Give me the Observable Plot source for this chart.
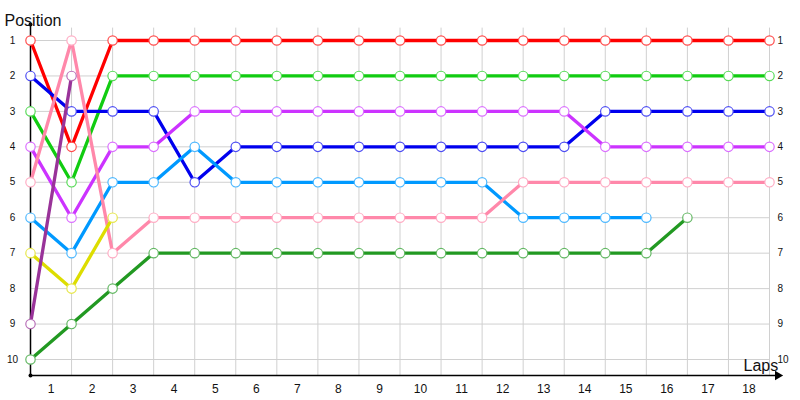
<!DOCTYPE html>
<html>
<head>
<meta charset="utf-8">
<script src="https://cdn.jsdelivr.net/npm/d3@7"></script>
<script src="https://cdn.jsdelivr.net/npm/@observablehq/plot@0.6"></script>
<style>
  html, body { margin: 0; padding: 0; background: #fff; }
  #chart svg { display: block; }
</style>
</head>
<body>
<div id="chart"></div>
<script>
// ---- data ----
const laps = [0,1,2,3,4,5,6,7,8,9,10,11,12,13,14,15,16,17,18];
const positions = [1,2,3,4,5,6,7,8,9,10];
const lapLabels = ["1","2","3","4","5","6","7","8","9","10","11","12","13","14","15","16","17","18"];

const red       = [1,4,1,1,1,1,1,1,1,1,1,1,1,1,1,1,1,1,1];
const green     = [3,5,2,2,2,2,2,2,2,2,2,2,2,2,2,2,2,2,2];
const blue      = [2,3,3,3,5,4,4,4,4,4,4,4,4,4,3,3,3,3,3];
const magenta   = [4,6,4,4,3,3,3,3,3,3,3,3,3,3,4,4,4,4,4];
const lightblue = [6,7,5,5,4,5,5,5,5,5,5,5,6,6,6,6];
const pink      = [5,1,7,6,6,6,6,6,6,6,6,6,5,5,5,5,5,5,5];
const darkgreen = [10,9,8,7,7,7,7,7,7,7,7,7,7,7,7,7,6];
const yellow    = [7,8,6];
const purple    = [9,2];

const seriesNames = ["red","green","blue","magenta","lightblue","pink","darkgreen","yellow","purple"];
const seriesData  = [red, green, blue, magenta, lightblue, pink, darkgreen, yellow, purple];

// ---- styles ----
const colors = {
  red: "#ff0000", green: "#11cc11", blue: "#0000ee", magenta: "#cc33ff",
  lightblue: "#0099ff", pink: "#ff88aa", darkgreen: "#229922", yellow: "#dddd00", purple: "#993399"
};
const dotColor = c => d3.interpolateRgb(c, "#ffffff")(0.3);

const rows = seriesNames.flatMap((name, k) =>
  seriesData[k].map((p, i) => ({driver: name, lap: laps[i], pos: p})));

const font = "'Liberation Sans', Arial, sans-serif";
const yBottom = 10.45, yTop = 0.55, xEnd = 18.2;

const seriesMarks = seriesNames.flatMap(name => {
  const d = rows.filter(r => r.driver === name);
  return [
    Plot.line(d, {x: "lap", y: "pos", stroke: colors[name], strokeWidth: 3.3, strokeLinejoin: "round"}),
    Plot.dot(d, {x: "lap", y: "pos", r: 4.7, fill: "white", stroke: dotColor(colors[name]), strokeWidth: 1.2})
  ];
});

const chart = Plot.plot({
  width: 800,
  height: 400,
  marginLeft: 30,
  marginRight: 31,
  marginTop: 40,
  marginBottom: 41,
  style: {fontFamily: font, background: "white"},
  x: {domain: [0, 18], axis: null},
  y: {domain: [1, 10], reverse: true, axis: null},
  marks: [
    // grid
    Plot.ruleX(laps.slice(1), {x: d => d, y1: 0.65, y2: yBottom, stroke: "#d0d0d0", strokeWidth: 1, strokeOpacity: 1}),
    Plot.ruleY(positions, {y: d => d, x1: 0, x2: 18, stroke: "#d0d0d0", strokeWidth: 1, strokeOpacity: 1}),
    // axes
    Plot.ruleX([0], {y1: yTop, y2: yBottom, stroke: "black", strokeWidth: 1.5}),
    Plot.ruleY([yBottom], {x1: 0, x2: xEnd, stroke: "black", strokeWidth: 1.5}),
    Plot.dot([[0, yTop], [0, yBottom]], {x: d => d[0], y: d => d[1], r: 2, fill: "black"}),
    Plot.dot([[xEnd, yBottom]], {x: d => d[0], y: d => d[1], symbol: "triangle", rotate: 90, r: 3.5, fill: "black"}),
    // tick labels
    Plot.text(positions, {x: 0, y: d => d, text: d => String(d), dx: -18, fontSize: 10, fill: "#111", textAnchor: "middle"}),
    Plot.text(positions, {x: 18, y: d => d, text: d => String(d), dx: 8, fontSize: 10, fill: "#111", textAnchor: "start"}),
    Plot.text(lapLabels, {x: (d, i) => laps[i + 1] - 0.5, y: yBottom, text: d => d, dy: 14, fontSize: 12, fill: "#111"}),
    // titles
    Plot.text(["Position"], {frameAnchor: "top-left", dx: -26, dy: -26, text: d => d, textAnchor: "start", fontSize: 16, fill: "#111"}),
    Plot.text(["Laps"], {x: 18, y: yBottom, dx: -26, dy: -10, text: d => d, textAnchor: "start", fontSize: 16, fill: "#111"}),
    // series
    ...seriesMarks
  ]
});
document.getElementById("chart").appendChild(chart);
</script>
</body>
</html>
